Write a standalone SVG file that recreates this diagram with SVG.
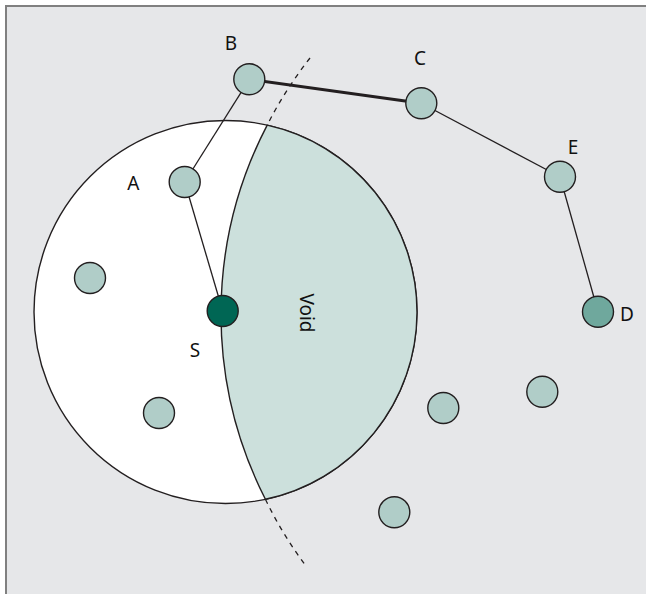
<svg xmlns="http://www.w3.org/2000/svg" width="646" height="594" viewBox="0 0 646 594">
<style>
.node{fill:#b0cdc8;stroke:#231f20;stroke-width:1.4}
.lbl{font-family:"Noto Sans","Open Sans","Liberation Sans",sans-serif;font-size:19px;fill:#111111;text-anchor:middle}
.edge{stroke:#231f20;stroke-width:1.3;fill:none}
.thick{stroke-width:3}
.dash{stroke:#231f20;stroke-width:1.3;fill:none;stroke-dasharray:5 5}
</style>
<rect x="0" y="0" width="646" height="594" fill="#ffffff"/>
<rect x="6" y="6" width="650" height="600" fill="#e6e7e9" stroke="#808080" stroke-width="2"/>
<g id="range">
<circle cx="225.5" cy="312" r="191.5" fill="#ffffff" stroke="#231f20" stroke-width="1.4"/>
</g>
<g id="void">
<path d="M 267.2 125.1 A 409 409 0 0 0 265.4 499.3 A 191.5 191.5 0 0 0 267.2 125.1 Z" fill="#cce0dc" stroke="#231f20" stroke-width="1.4"/>
<path class="dash" d="M 310 58 A 409 409 0 0 0 267.2 125.1"/>
<path class="dash" d="M 265.4 499.3 A 409 409 0 0 0 305.7 565.7"/>
<text class="lbl" transform="translate(300,313) rotate(90)">Void</text>
</g>
<g id="connectors">
<line class="edge" x1="249.3" y1="79.3" x2="184.7" y2="182"/>
<line class="edge" x1="184.7" y1="182" x2="222.7" y2="311"/>
<line class="edge thick" x1="249.3" y1="79.3" x2="421.3" y2="103.3"/>
<line class="edge" x1="421.3" y1="103.3" x2="560" y2="176.7"/>
<line class="edge" x1="560" y1="176.7" x2="598" y2="311.7"/>
</g>
<g id="node-B"><circle class="node" cx="249.3" cy="79.3" r="15.5"/><text class="lbl" x="231" y="50">B</text></g>
<g id="node-C"><circle class="node" cx="421.3" cy="103.3" r="15.5"/><text class="lbl" x="420" y="65">C</text></g>
<g id="node-E"><circle class="node" cx="560" cy="176.7" r="15.5"/><text class="lbl" x="573" y="154">E</text></g>
<g id="node-D"><circle class="node" cx="598" cy="311.7" r="15.5" style="fill:#6fa89d"/><text class="lbl" x="627" y="321">D</text></g>
<g id="node-A"><circle class="node" cx="184.7" cy="182" r="15.5"/><text class="lbl" x="133.3" y="190">A</text></g>
<g id="node-S"><circle class="node" cx="222.7" cy="311" r="15.5" style="fill:#006654"/><text class="lbl" x="195" y="357">S</text></g>
<g id="node-1"><circle class="node" cx="90" cy="278" r="15.5"/></g>
<g id="node-2"><circle class="node" cx="159" cy="413" r="15.5"/></g>
<g id="node-3"><circle class="node" cx="443.3" cy="408" r="15.5"/></g>
<g id="node-4"><circle class="node" cx="542.3" cy="391.7" r="15.5"/></g>
<g id="node-5"><circle class="node" cx="394.3" cy="512.3" r="15.5"/></g>
</svg>
